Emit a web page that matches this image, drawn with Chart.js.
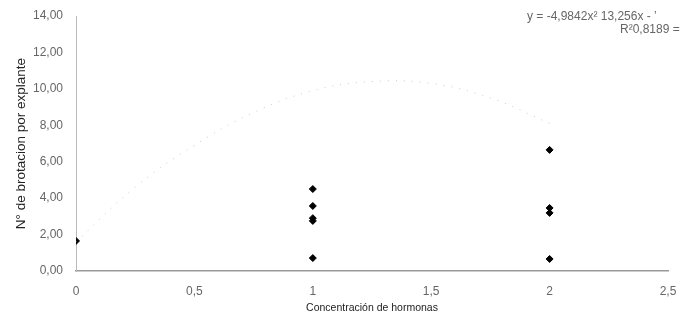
<!DOCTYPE html>
<html>
<head>
<meta charset="utf-8">
<script src="https://cdn.jsdelivr.net/npm/chart.js@4.4.1/dist/chart.umd.min.js"></script>
<style>
html,body{margin:0;padding:0;background:#fff;}
#wrap{width:688px;height:322px;}
</style>
</head>
<body>
<div id="wrap"><canvas id="c" width="688" height="322"></canvas></div>
<script>
// ---- data ----
const concentrations = [0, 1, 1, 1, 1, 1, 2, 2, 2, 2];
const brotaciones    = [1.65, 4.5, 3.57, 2.9, 2.75, 0.71, 6.65, 3.46, 3.19, 0.66];
const trendX = [0, 0.25, 0.5, 0.75, 1, 1.25, 1.5, 1.75, 2];
const trendY = [1.6, 4.6, 6.9, 8.7, 9.9, 10.4, 10.3, 9.5, 8.1];
const yTickLabels = ['0,00','2,00','4,00','6,00','8,00','10,00','12,00','14,00'];
const xTickLabels = ['0','0,5','1','1,5','2','2,5'];
const equationText = 'y = -4,9842x\u00B2 13,256x - \u02BC';
const r2Text = 'R\u00B20,8189 =';
const xTitle = 'Concentración de hormonas';
const yTitle = 'N° de brotacion por explante';

const points = concentrations.map((x, i) => ({x, y: brotaciones[i]}));
const trend = trendX.map((x, i) => ({x, y: trendY[i]}));

const FONT = '"Liberation Sans", Arial, sans-serif';

const eqPlugin = {
  id: 'eq',
  afterDraw(chart) {
    const ctx = chart.ctx;
    ctx.save();
    ctx.fillStyle = '#666';
    ctx.font = '12px ' + FONT;
    ctx.textBaseline = 'middle';
    ctx.textAlign = 'left';
    ctx.fillText(equationText, 527, 17);
    ctx.fillText(r2Text, 620, 30);
    ctx.restore();
  }
};

new Chart(document.getElementById('c'), {
  type: 'scatter',
  data: {
    datasets: [
      {
        label: 'tendencia',
        type: 'line',
        data: trend,
        borderColor: 'rgba(160,160,160,0.55)',
        borderWidth: 1,
        borderDash: [1, 7],
        pointRadius: 0,
        tension: 0.4,
        fill: false
      },
      {
        label: 'brotación',
        data: points,
        pointStyle: 'rectRot',
        pointRadius: 3.5,
        backgroundColor: '#000',
        borderColor: '#000',
        borderWidth: 1
      }
    ]
  },
  options: {
    responsive: false,
    animation: false,
    layout: { padding: { top: 16, right: 20, bottom: 0, left: 0 } },
    plugins: { legend: { display: false }, tooltip: { enabled: false } },
    scales: {
      x: {
        type: 'linear',
        min: 0, max: 2.5,
        afterFit(s) { s.height = 51; },
        grid: { display: false },
        border: { display: true, color: '#9a9a9a', width: 1.5, dash: [10, 2] },
        ticks: {
          stepSize: 0.5,
          padding: 5,
          color: '#666',
          font: { family: FONT, size: 12 },
          callback: (v) => { const i = Math.round(v / 0.5); return xTickLabels[i]; }
        },
        title: {
          display: true,
          text: xTitle,
          color: '#222',
          font: { family: FONT, size: 10.5 },
          padding: { top: 0, bottom: 8 }
        }
      },
      y: {
        type: 'linear',
        min: 0, max: 14,
        afterFit(s) { s.width = 76; },
        grid: { display: false },
        border: { display: true, color: '#bbb', width: 1, dash: [1, 3] },
        ticks: {
          stepSize: 2,
          padding: 5,
          color: '#666',
          font: { family: FONT, size: 12 },
          callback: (v) => yTickLabels[Math.round(v / 2)]
        },
        title: {
          display: true,
          text: yTitle,
          color: '#222',
          font: { family: FONT, size: 13.5 },
          padding: { top: 13, bottom: 0 }
        }
      }
    }
  },
  plugins: [eqPlugin]
});
</script>
</body>
</html>
